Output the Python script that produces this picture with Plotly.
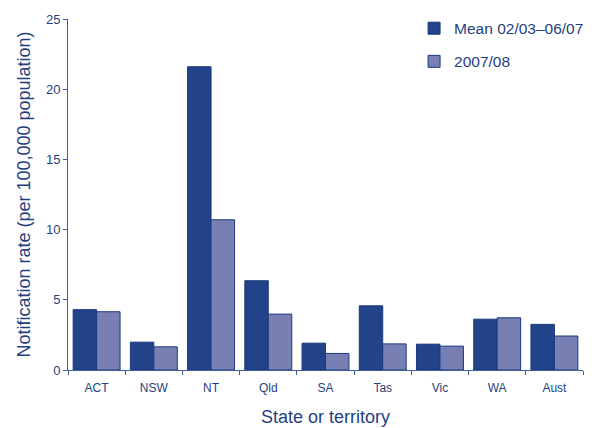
import plotly.graph_objects as go

categories = ["ACT", "NSW", "NT", "Qld", "SA", "Tas", "Vic", "WA", "Aust"]
mean_0203_0607 = [4.3, 1.98, 21.6, 6.36, 1.91, 4.57, 1.84, 3.62, 3.25]
rate_2007_08 = [4.15, 1.65, 10.7, 3.98, 1.18, 1.86, 1.70, 3.72, 2.42]

text_color = "#1F3F80"
axis_color = "#3F5F9A"
font_family = "Liberation Sans, Arial, sans-serif"

fig = go.Figure()
fig.add_trace(go.Bar(
    x=categories, y=mean_0203_0607, name="Mean 02/03\u201306/07",
    marker=dict(color="#22438A", line=dict(color="#1A3A7C", width=1)),
    legendgroup="a",
))
fig.add_trace(go.Bar(
    x=categories, y=rate_2007_08, name="2007/08",
    marker=dict(color="#7880B3", line=dict(color="#1A3A7C", width=1)),
    legendgroup="b",
))

fig.update_layout(
    width=606, height=428,
    margin=dict(l=68, r=23, t=16, b=58),
    paper_bgcolor="white", plot_bgcolor="white",
    font=dict(family=font_family, color=text_color, size=13),
    barmode="group", bargap=0.18, bargroupgap=0,
    showlegend=True,
    legend=dict(
        x=0.672, y=1.021, xanchor="left", yanchor="top",
        font=dict(size=15.5, color=text_color),
        tracegroupgap=10, bgcolor="rgba(0,0,0,0)",
    ),
    xaxis=dict(
        type="category", tickson="boundaries", ticks="outside", ticklen=4,
        tickcolor=axis_color, showline=True, linecolor=axis_color, linewidth=1,
        showgrid=False, tickfont=dict(size=12, color=text_color),
        ticklabelstandoff=7, automargin=False,
        title=dict(text="State or territory", font=dict(size=18, color=text_color), standoff=15),
    ),
    yaxis=dict(
        range=[0, 25], tickvals=[0, 5, 10, 15, 20, 25], ticks="outside", ticklen=4,
        tickcolor=axis_color, showline=True, linecolor=axis_color, linewidth=1,
        showgrid=False, zeroline=False, tickfont=dict(size=13, color=text_color),
        automargin=False,
        title=dict(text="Notification rate (per 100,000 population)",
                   font=dict(size=18, color=text_color), standoff=10),
    ),
)

fig.write_html("out.html", config={"displayModeBar": False},
               post_script="document.body.style.margin='0';document.body.style.overflow='hidden';")
